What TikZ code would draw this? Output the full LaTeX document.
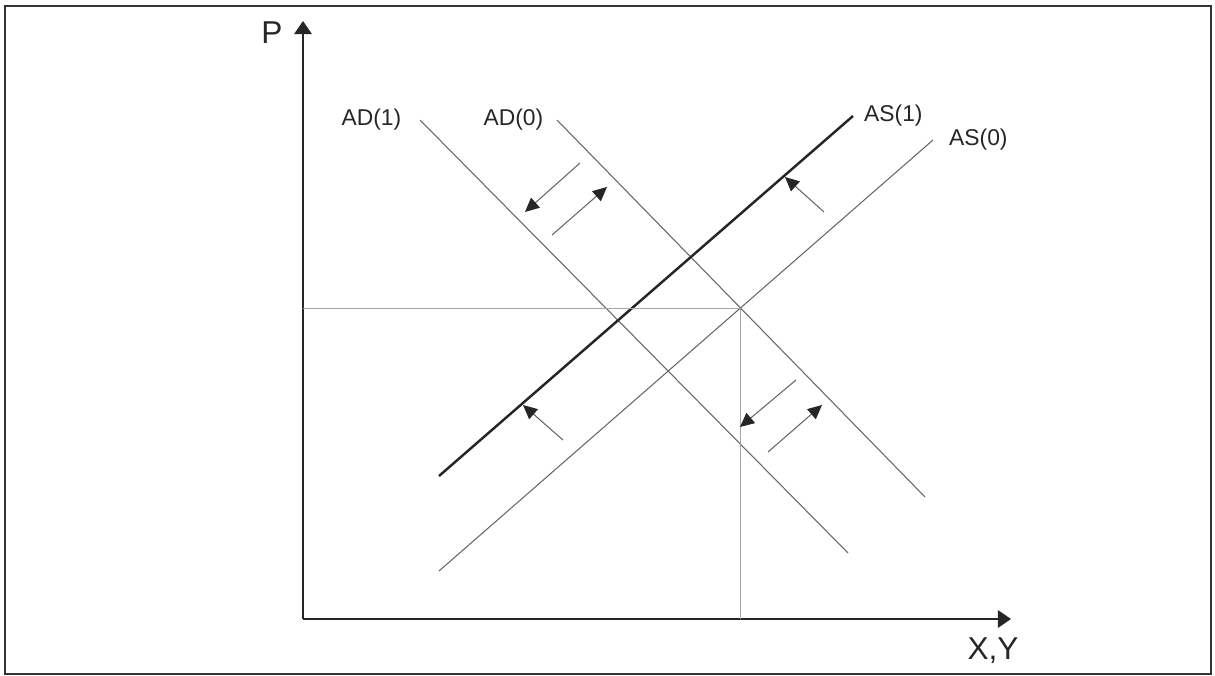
\documentclass[tikz,border=0pt]{standalone}
\usepackage{fontspec}
\setmainfont{Liberation Sans}
\usetikzlibrary{arrows.meta,positioning}
\tikzset{
  axis/.style={line width=1.1pt, black!85, -{Triangle[length=7.5pt,width=10pt]}},
  curve/.style={line width=0.6pt, gray!80!black},
  thickcurve/.style={line width=1.4pt, black!85},
  guide/.style={line width=0.5pt, gray!70},
  shiftarrow/.style={line width=0.6pt, gray!80!black, -{Triangle[length=8pt,width=7.5pt,color=black!85]}},
  lbl/.style={font=\fontsize{13}{15}\selectfont, black!85},
  biglbl/.style={font=\fontsize{18}{20}\selectfont, black!85}
}
\begin{document}
\begin{tikzpicture}[x=0.02cm, y=-0.02cm]
  \useasboundingbox (0,0) rectangle (1215,676);
  \draw[line width=1.1pt, black!80] (5,6) rectangle (1211,674);

  % axes
  \coordinate (O) at (303,619);
  \coordinate (ytop) at (303,21);
  \coordinate (xend) at (1011,619);
  \draw[axis] (O) -- (ytop);
  \draw[axis] (O) -- (xend);
  \node[biglbl] (P) at (272,33) {P};
  \node[biglbl] (XY) at (993,651) {X,Y};

  % demand and supply curves
  \coordinate (ad1a) at (420,120);
  \coordinate (ad1b) at (848,553);
  \coordinate (ad0a) at (557,120);
  \coordinate (ad0b) at (925,497);
  \coordinate (as1a) at (439,476);
  \coordinate (as1b) at (853,116);
  \coordinate (as0a) at (439,571);
  \coordinate (as0b) at (933,140);
  \draw[curve] (ad1a) -- (ad1b);
  \draw[curve] (ad0a) -- (ad0b);
  \draw[thickcurve] (as1a) -- (as1b);
  \draw[curve] (as0a) -- (as0b);
  \node[lbl, left=0.25cm of ad1a] (ad1lbl) {AD(1)};
  \node[lbl, left=0.15cm of ad0a] (ad0lbl) {AD(0)};
  \node[lbl, right=0.1cm of as1b] (as1lbl) {AS(1)};
  \node[lbl, right=0.2cm of as0b] (as0lbl) {AS(0)};

  % equilibrium
  \coordinate (eq) at (intersection of ad0a--ad0b and as0a--as0b);
  \draw[guide] (eq) -- (eq -| O);
  \draw[guide] (eq) -- (eq |- O);

  % shifts
  \coordinate (s1a) at (580,163);
  \coordinate (s1b) at (525,212);
  \coordinate (s2a) at (552,235);
  \coordinate (s2b) at (607,187);
  \coordinate (s3a) at (796,380);
  \coordinate (s3b) at (740,427);
  \coordinate (s4a) at (768,452);
  \coordinate (s4b) at (822,405);
  \coordinate (s5a) at (824,212);
  \coordinate (s5b) at (785,177);
  \coordinate (s6a) at (563,440);
  \coordinate (s6b) at (523,405);
  \draw[shiftarrow] (s1a) -- (s1b);
  \draw[shiftarrow] (s2a) -- (s2b);
  \draw[shiftarrow] (s3a) -- (s3b);
  \draw[shiftarrow] (s4a) -- (s4b);
  \draw[shiftarrow] (s5a) -- (s5b);
  \draw[shiftarrow] (s6a) -- (s6b);
\end{tikzpicture}
\end{document}
